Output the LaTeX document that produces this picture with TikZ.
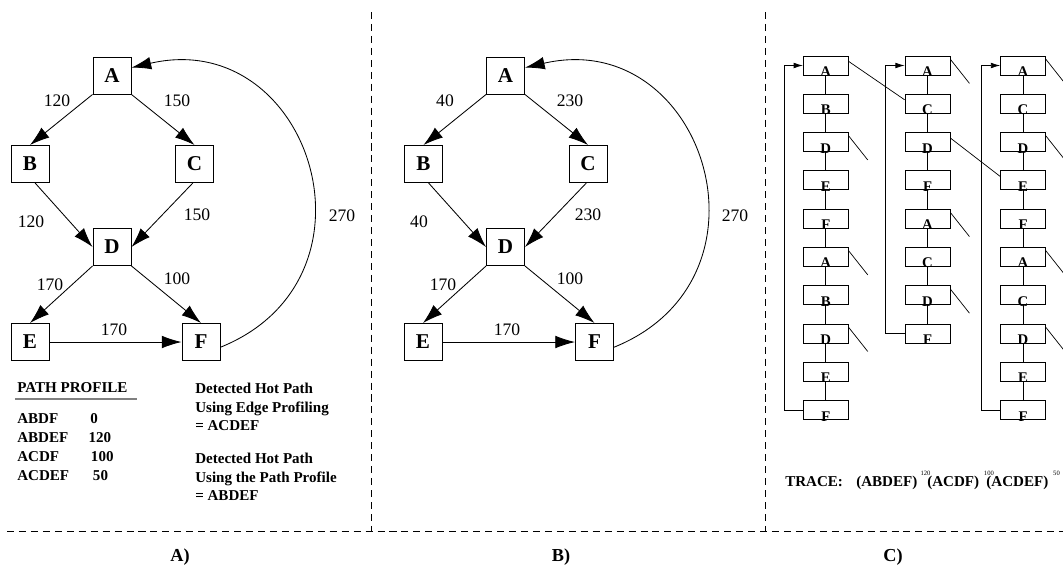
\documentclass[tikz,border=0pt]{standalone}
\usepackage{fontspec}
\setmainfont{Liberation Serif}
\usepackage{tikz}
\usetikzlibrary{arrows.meta,positioning}

\tikzset{
  blk/.style={draw,line width=0.7pt,minimum width=0.95cm,minimum height=0.925cm,
    inner sep=0pt,font=\fontsize{15}{16}\selectfont\bfseries},
  cell/.style={draw,line width=0.6pt,minimum width=1.125cm,inner sep=0pt,
    text height=13pt,text depth=0.5pt,font=\fontsize{10.5}{11}\selectfont\bfseries},
  flow/.style={line width=0.6pt,-{Latex[length=14pt,width=9pt]}},
  back/.style={line width=0.5pt,-{Latex[length=6.5pt,width=4pt]}},
  link/.style={line width=0.5pt},
  wt/.style={font=\fontsize{12.5}{14}\selectfont,inner sep=0pt},
  txt/.style={font=\fontsize{10.7}{13.2}\selectfont\bfseries,align=left,inner sep=0pt},
  sec/.style={font=\fontsize{13}{15}\selectfont\bfseries,inner sep=0pt},
  sep/.style={line width=0.5pt,dash pattern=on 5pt off 3.5pt},
}
\newcommand{\low}[1]{\raisebox{-1.5pt}{#1}}
\newcommand{\cnt}[1]{\raisebox{8pt}{\fontsize{4.7}{5}\selectfont\mdseries #1}}

\begin{document}
\begin{tikzpicture}[x=0.025cm,y=0.025cm]
  \useasboundingbox (0,0) rectangle (1063,-567);
  % A) edge profile
  \node[blk] (a-A) at (112,-75.5) {A};
  \node[blk] (a-B) at (30,-164) {B};
  \node[blk] (a-C) at (194.5,-164) {C};
  \node[blk] (a-D) at (112,-247) {D};
  \node[blk] (a-E) at (30,-342) {E};
  \node[blk] (a-F) at (201,-342) {F};
  \draw[flow] (a-A.south west) -- (a-B.north);
  \draw[flow] (a-A.south east) -- (a-C.north);
  \draw[flow] (a-B.-75) -- (a-D.west);
  \draw[flow] (a-C.-95) -- (a-D.east);
  \draw[flow] (a-D.south west) -- (a-E.north);
  \draw[flow] (a-D.south east) -- (a-F.north);
  \draw[flow] (a-E) -- (a-F);
  \draw[flow] (a-F.-15) to[out=22,in=13,looseness=1.6] (a-A.22);
  \node[wt] (a-wAB) at (57,-101) {120};
  \node[wt] (a-wAC) at (177,-101) {150};
  \node[wt] (a-wBD) at (31,-222) {120};
  \node[wt] (a-wCD) at (197,-215) {150};
  \node[wt] (a-wDE) at (50,-285) {170};
  \node[wt] (a-wDF) at (177,-279) {100};
  \node[wt] (a-wEF) at (114,-330) {170};
  \node[wt] (a-wFA) at (342,-216) {270};
  % path profile table
  \node[txt,anchor=west] (pp) at (17,-388) {PATH PROFILE};
  \draw[line width=1.3pt,gray] (15,-399) -- (137,-399);
  \foreach \p/\n/\nx [count=\i] in {ABDF/0/90, ABDEF/120/88.3, ACDF/100/90.7, ACDEF/50/92.7} {
    \node[txt,anchor=west] (pn\i) at (17,{-400-19*\i}) {\p};
    \node[txt,anchor=west] (pc\i) at (\nx,{-400-19*\i}) {\n};
  }
  \node[txt,anchor=west] (hot1) at (195,-407)
    {Detected Hot Path\\Using Edge Profiling\\= ACDEF};
  \node[txt,anchor=west] (hot2) at (195,-477)
    {Detected Hot Path\\Using the Path Profile\\= ABDEF};

  % B) same graph, other counts
  \node[blk] (b-A) at (505.5,-75.5) {A};
  \node[blk] (b-B) at (423.5,-164) {B};
  \node[blk] (b-C) at (588,-164) {C};
  \node[blk] (b-D) at (505.5,-247) {D};
  \node[blk] (b-E) at (423,-342) {E};
  \node[blk] (b-F) at (594.5,-342) {F};
  \draw[flow] (b-A.south west) -- (b-B.north);
  \draw[flow] (b-A.south east) -- (b-C.north);
  \draw[flow] (b-B.-75) -- (b-D.west);
  \draw[flow] (b-C.-95) -- (b-D.east);
  \draw[flow] (b-D.south west) -- (b-E.north);
  \draw[flow] (b-D.south east) -- (b-F.north);
  \draw[flow] (b-E) -- (b-F);
  \draw[flow] (b-F.-15) to[out=22,in=13,looseness=1.6] (b-A.22);
  \node[wt] (b-wAB) at (445,-101) {40};
  \node[wt] (b-wAC) at (570,-101) {230};
  \node[wt] (b-wBD) at (419,-222) {40};
  \node[wt] (b-wCD) at (588,-215) {230};
  \node[wt] (b-wDE) at (443,-285) {170};
  \node[wt] (b-wDF) at (570,-279) {100};
  \node[wt] (b-wEF) at (507,-330) {170};
  \node[wt] (b-wFA) at (735,-216) {270};

  % C) trace blocks
  \def\dy{38.3}
  \foreach \nm [count=\k] in {A,B,D,E,F,A,B,D,E,F}
    \node[cell] (c1-\k) at (825.8,{-65.5-\dy*(\k-1)}) {\low{\nm}};
  \foreach \nm [count=\k] in {A,C,D,F,A,C,D,F}
    \node[cell] (c2-\k) at (927.5,{-65.5-\dy*(\k-1)}) {\low{\nm}};
  \foreach \nm [count=\k] in {A,C,D,E,F,A,C,D,E,F}
    \node[cell] (c3-\k) at (1023,{-65.5-\dy*(\k-1)}) {\low{\nm}};
  \foreach \k in {1,...,9} {
    \pgfmathtruncatemacro{\nk}{\k+1}
    \draw[link] (c1-\k.south) -- (c1-\nk.north);
    \draw[link] (c3-\k.south) -- (c3-\nk.north);
  }
  \foreach \k in {1,...,7} {
    \pgfmathtruncatemacro{\nk}{\k+1}
    \draw[link] (c2-\k.south) -- (c2-\nk.north);
  }
  % loop back to the head
  \draw[back] (c1-10.west) -- ++(-19,0) |- (c1-1.west);
  \draw[back] (c2-8.west) -- ++(-19,0) |- (c2-1.west);
  \draw[back] (c3-10.west) -- ++(-19,0) |- (c3-1.west);
  % jumps between traces
  \draw[link] (c1-1.10) -- (c2-2.170);
  \draw[link] (c2-3.10) -- (c3-4.170);
  \foreach \c/\k in {1/3, 1/6, 1/8, 2/1, 2/5, 2/7, 3/1, 3/3, 3/6, 3/8}
    \draw[link] (c\c-\k.15) -- ++(19,-24);
  \node[txt,anchor=base west] (trace) at (785,-486.5)
    {TRACE:\hspace{9.5pt}(ABDEF)\hspace{2.3pt}\cnt{120}\hspace{-2.3pt}(ACDF)\hspace{3.5pt}\cnt{100}\hspace{-5.3pt}(ACDEF)\hspace{3.5pt}\cnt{50}};

  % separators and captions
  \draw[sep] (371,-12) -- (371,-531);
  \draw[sep] (765,-12) -- (765,-531);
  \draw[sep] (7,-531) -- (1063,-531);
  \node[sec] (capA) at (180,-557) {A)};
  \node[sec] (capB) at (561,-557) {B)};
  \node[sec] (capC) at (893,-557) {C)};
\end{tikzpicture}
\end{document}
